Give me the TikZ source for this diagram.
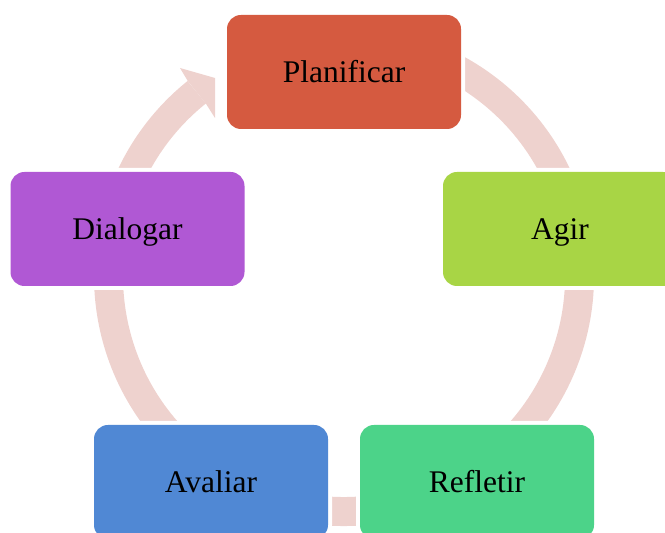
\documentclass[tikz,border=0pt]{standalone}
\usepackage{fontspec}
\setmainfont{Liberation Serif}
\definecolor{cPlan}{HTML}{D55A40}
\definecolor{cAgir}{HTML}{A8D545}
\definecolor{cRef}{HTML}{4CD389}
\definecolor{cAval}{HTML}{5088D4}
\definecolor{cDial}{HTML}{B058D4}
\definecolor{ringc}{HTML}{EED2CE}
\begin{document}
\begin{tikzpicture}[x=1pt,y=1pt,
  box/.style={rounded corners=14pt, minimum width=234pt, minimum height=114pt,
    inner sep=0pt, text height=21pt, text depth=0pt,
    font=\fontsize{31.5}{36}\selectfont,
    preaction={draw=white, line width=8pt}},
  ring/.style={draw=ringc, line width=29pt}]
\clip (0,0) rectangle (665,533);
\coordinate (C) at (344,257);
\draw[ring] ([shift={(100:235.5)}]C) arc[start angle=100, end angle=-231.3, radius=235.5];
\fill[ringc] (187.7,452.1) -- (180,465) -- (215,455) -- (215,415) -- (205.8,429.5) -- cycle;
\node[box, fill=cPlan] (plan) at (344,461) {Planificar};
\node[box, fill=cAgir] (agir) at (560,304) {Agir};
\node[box, fill=cRef]  (ref)  at (477,51) {Refletir};
\node[box, fill=cAval] (aval) at (211,51) {Avaliar};
\node[box, fill=cDial] (dial) at (127.5,304) {Dialogar};
\end{tikzpicture}
\end{document}
